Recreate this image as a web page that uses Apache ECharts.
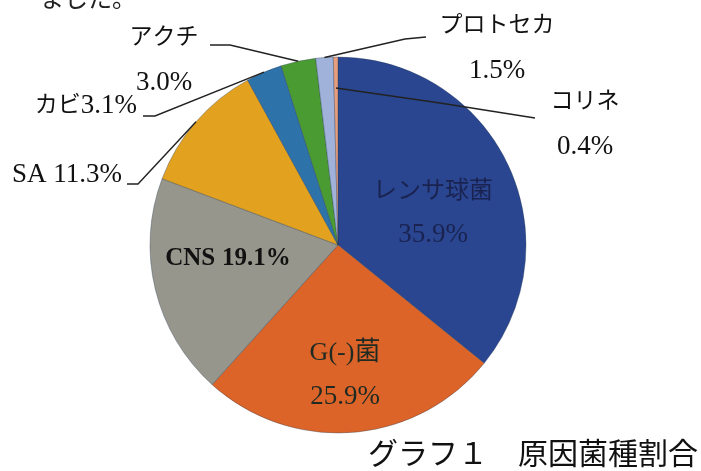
<!DOCTYPE html>
<html>
<head>
<meta charset="utf-8">
<script src="https://cdn.jsdelivr.net/npm/echarts@6/dist/echarts.min.js"></script>
<style>
  html, body { margin: 0; padding: 0; background: #fff; }
  #chart { width: 701px; height: 471px; }
</style>
</head>
<body>
<div id="chart"></div>
<script>
// 原因菌種割合 (%)
var names = ['レンサ球菌', 'G(-)菌', 'CNS', 'SA', 'カビ', 'アクチ', 'プロトセカ', 'コリネ'];
var values = [35.9, 25.9, 19.1, 11.3, 3.1, 3.0, 1.5, 0.4];
var colors = ['#2a4691', '#dc6429', '#96968c', '#e2a220', '#2e72aa', '#4a9b32', '#a0b1da', '#e89d7e'];

var CX = 338, CY = 245, R = 188;
var SERIF = '"Liberation Serif", "Noto Sans CJK JP", serif';

// ラベルの置き方 (位置・引き出し線)
var labelSpec = [
  { sep: '\n', ns: 'jpin', vs: 'numin', x: 433, y: 213, align: 'center' },
  { sep: '\n', ns: 'gin', vs: 'gnum', x: 345, y: 375, align: 'center' },
  { sep: ' ', ns: 'cns', vs: 'cns', x: 228, y: 259, align: 'center' },
  { sep: ' ', ns: 'num', vs: 'num', x: 122, y: 175, align: 'right',
    line: { k: 1, elbow: [138, 184], end: [127, 184] } },
  { sep: '', ns: 'jp', vs: 'num', x: 137, y: 106, align: 'right',
    line: { k: 1, elbow: [155, 116], end: [143, 116] } },
  { sep: '\n', ns: 'jp', vs: 'num', x: 164, y: 60, align: 'center',
    line: { k: 1, elbow: [230, 45], end: [210, 45] } },
  { sep: '\n', ns: 'jp', vs: 'num', x: 497, y: 48, align: 'center',
    line: { k: 1, elbow: [405, 39], end: [426, 37] } },
  { sep: '\n', ns: 'jp', vs: 'num', x: 585, y: 124, align: 'center',
    line: { k: 0.835, elbow: [440, 103], end: [535, 118] } }
];

var data = names.map(function (n, i) {
  return { name: n, value: values[i] };
});

// ラベル用 (線が扇形の上に出るように別系列で重ねる)
var labelData = names.map(function (n, i) {
  var d = { name: n, value: values[i] };
  if (!labelSpec[i].line) d.labelLine = { show: false };
  return d;
});

var myChart = echarts.init(document.getElementById('chart'));

var option = {
  backgroundColor: '#fff',
  animation: false,
  color: colors,
  title: {
    text: 'グラフ１　原因菌種割合',
    left: 368,
    top: 441,
    padding: 0,
    textStyle: { fontSize: 30, fontWeight: 'normal', color: '#111', fontFamily: SERIF }
  },
  graphic: [{
    type: 'text',
    left: 40,
    top: -11,
    style: { text: 'ました。', fontSize: 24, fill: '#222', fontFamily: SERIF }
  }],
  series: [{
    type: 'pie',
    center: [CX, CY],
    radius: R,
    startAngle: 90,
    clockwise: true,
    silent: true,
    data: data,
    itemStyle: { borderColor: 'rgba(40,60,80,0.45)', borderWidth: 0.8 },
    label: { show: false },
    labelLine: { show: false }
  }, {
    type: 'pie',
    z: 5,
    center: [CX, CY],
    radius: R,
    startAngle: 90,
    clockwise: true,
    silent: true,
    avoidLabelOverlap: false,
    data: labelData,
    itemStyle: { color: 'rgba(0,0,0,0)', borderWidth: 0 },
    label: {
      show: true,
      position: 'outside',
      fontFamily: SERIF,
      fontSize: 27,
      color: '#111',
      lineHeight: 45,
      formatter: function (p) {
        var s = labelSpec[p.dataIndex];
        return '{' + s.ns + '|' + p.name + '}' + s.sep + '{' + s.vs + '|' + p.value.toFixed(1) + '%}';
      },
      rich: {
        jp: { fontFamily: SERIF, fontSize: 23, color: '#111', lineHeight: 45 },
        num: { fontFamily: SERIF, fontSize: 27, color: '#111', lineHeight: 45 },
        jpin: { fontFamily: SERIF, fontSize: 24, color: '#1a2350', lineHeight: 43 },
        numin: { fontFamily: SERIF, fontSize: 27, color: '#1a2350', lineHeight: 43 },
        gin: { fontFamily: SERIF, fontSize: 26, color: '#1f2a22', lineHeight: 44 },
        gnum: { fontFamily: SERIF, fontSize: 27, color: '#1f2a22', lineHeight: 44 },
        cns: { fontFamily: SERIF, fontSize: 25, fontWeight: 'bold', color: '#111' }
      }
    },
    labelLine: {
      show: true,
      lineStyle: { color: '#222', width: 1.4 }
    },
    labelLayout: function (p) {
      var s = labelSpec[p.dataIndex];
      var out = { x: s.x, y: s.y, align: s.align, verticalAlign: 'middle' };
      if (s.line && p.labelLinePoints) {
        var a = p.labelLinePoints[0];
        var p0 = [CX + (a[0] - CX) * s.line.k, CY + (a[1] - CY) * s.line.k];
        out.labelLinePoints = [p0, s.line.elbow, s.line.end];
      }
      return out;
    }
  }]
};

myChart.setOption(option);
</script>
</body>
</html>
